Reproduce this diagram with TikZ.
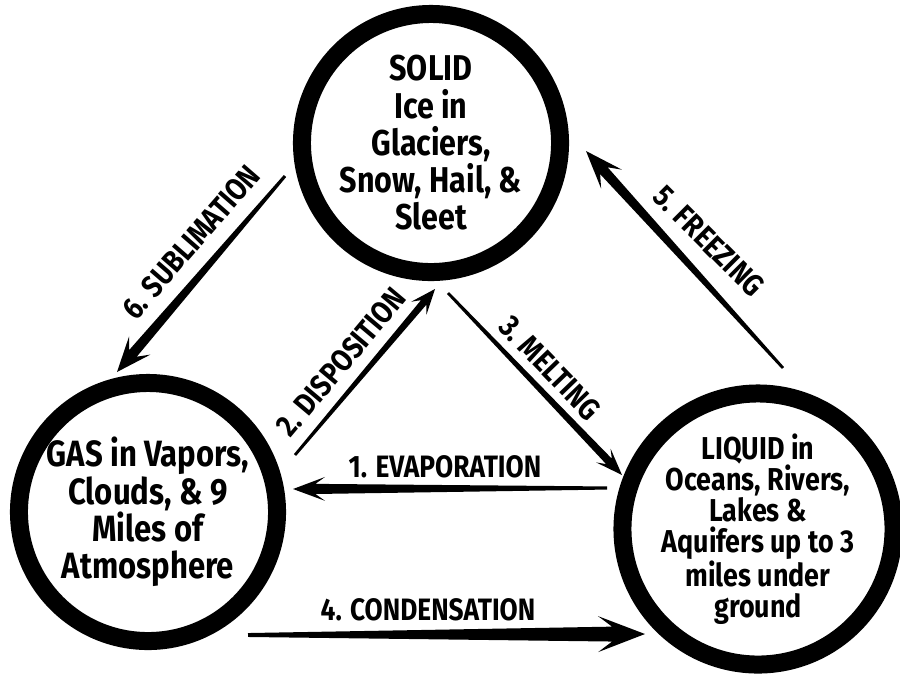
\documentclass[tikz,border=0pt]{standalone}
\usepackage{fontspec}
\setmainfont{Fira Sans}[FakeStretch=0.85]
\usetikzlibrary{calc}
\newcommand\taparrow[6]{% tail, tip, tail half, shaft half, head length, head half
  \coordinate (tpN) at ($(#2)!{0.7*#5}!(#1)$);
  \coordinate (tpB) at ($(#2)!#5!(#1)$);
  \fill ($(#1)!#3!90:(#2)$) -- ($(tpN)!#4!90:(#2)$) -- ($(tpB)!#6!90:(#2)$) -- (#2)
     -- ($(tpB)!#6!-90:(#2)$) -- ($(tpN)!#4!-90:(#2)$) -- ($(#1)!#3!-90:(#2)$) -- cycle;
}
\tikzset{
  state/.style={circle, draw=black, line width=12.8pt, minimum size=6.45cm, inner sep=0pt, align=center, fill=white},
  bigtxt/.style={font=\bfseries\fontsize{25.5}{26.5}\selectfont},
  midtxt/.style={font=\bfseries\fontsize{26}{26.5}\selectfont},
  smalltxt/.style={font=\bfseries\fontsize{22.5}{22}\selectfont},
  lbl/.style={font=\bfseries\fontsize{22}{22}\selectfont, inner sep=0pt}
}
\begin{document}
\begin{tikzpicture}[x=0.025cm, y=-0.025cm]
\useasboundingbox[fill=white] (0,0) rectangle (900,673);
% states
\node[state, bigtxt] (solid) at (431,143) {SOLID\\Ice in\\Glaciers,\\Snow, Hail, \&\\Sleet};
\node[state, midtxt] (gas) at (148,512) {GAS in Vapors,\\Clouds, \& 9\\Miles of\\Atmosphere};
\node[state, smalltxt] (liquid) at (758,529) {LIQUID in\\Oceans, Rivers,\\Lakes \&\\Aquifers up to 3\\miles under\\ground};
% connector end points
\coordinate (evT) at (607,488); \coordinate (evH) at (293,489);
\coordinate (coT) at (248,635); \coordinate (coH) at (645,634);
\coordinate (suT) at (285,176); \coordinate (suH) at (117,372);
\coordinate (diT) at (295,455); \coordinate (diH) at (435,289);
\coordinate (meT) at (448,293); \coordinate (meH) at (622,475);
\coordinate (frT) at (783,368); \coordinate (frH) at (586,151);
% arrows
\taparrow{evT}{evH}{1.1pt}{3.6pt}{22.8pt}{8.5pt}
\taparrow{coT}{coH}{1.4pt}{5.3pt}{33.4pt}{12.8pt}
\taparrow{suT}{suH}{1.1pt}{3.6pt}{24.9pt}{10pt}
\taparrow{diT}{diH}{1pt}{2.5pt}{17.8pt}{7.1pt}
\taparrow{meT}{meH}{1pt}{2.8pt}{19.2pt}{7.1pt}
\taparrow{frT}{frH}{1pt}{3.6pt}{27pt}{10pt}
% labels
\node[lbl] (l1) at (445,467) {1. EVAPORATION};
\node[lbl] (l4) at (428,610) {4. CONDENSATION};
\node[lbl, rotate=49] (l6) at (191,242) {6. SUBLIMATION};
\node[lbl, rotate=50] (l2) at (341,362) {2. DISPOSITION};
\node[lbl, rotate=-46] (l3) at (550,368) {3. MELTING};
\node[lbl, rotate=-45] (l5) at (709,241) {5. FREEZING};
\end{tikzpicture}
\end{document}
